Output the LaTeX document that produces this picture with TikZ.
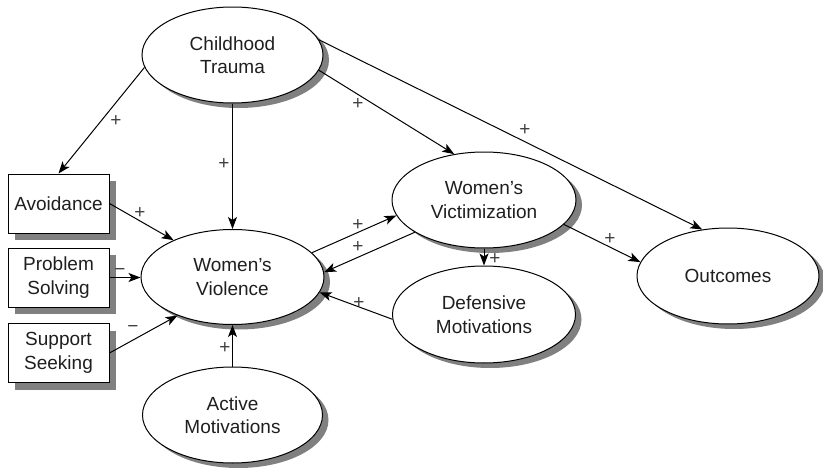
\documentclass[tikz,border=0pt]{standalone}
\usepackage{fontspec}
\setmainfont{Liberation Sans}
\usetikzlibrary{shapes.geometric,shadows,arrows.meta}
\begin{document}
\begin{tikzpicture}[x=1pt,y=-1pt,
  oval/.style={ellipse,draw=black,line width=1pt,fill=white,inner sep=0pt,align=center,
    font=\fontsize{19}{23.5}\selectfont,text=black!88,
    drop shadow={shadow xshift=6pt,shadow yshift=-5pt,fill=black!50,opacity=1}},
  obox/.style={rectangle,draw=black,line width=1pt,fill=white,inner sep=0pt,align=center,
    minimum width=101pt,minimum height=59pt,
    font=\fontsize{19}{23.5}\selectfont,text=black!88,
    drop shadow={shadow xshift=7pt,shadow yshift=-7pt,fill=black!50,opacity=1}},
  path/.style={draw=black,line width=1pt,-{Stealth[length=12pt,width=9pt,inset=3pt]}},
  sign/.style={font=\fontsize{19}{19}\selectfont,text=black!75,inner sep=0pt}
]
\useasboundingbox (0,0) rectangle (823,471);
% ellipses
\node[oval,minimum width=181pt,minimum height=96pt] (trauma) at (232.5,55) {Childhood\\Trauma};
\node[oval,minimum width=183pt,minimum height=95pt] (viol) at (232.5,277) {Women’s\\Violence};
\node[oval,minimum width=184pt,minimum height=96pt] (vict) at (484,200) {Women’s\\Victimization};
\node[oval,minimum width=183pt,minimum height=97pt] (def) at (484,314.5) {Defensive\\Motivations};
\node[oval,minimum width=180pt,minimum height=96pt] (act) at (232.5,415) {Active\\Motivations};
\node[oval,minimum width=182pt,minimum height=96pt] (out) at (728,276) {Outcomes};
% boxes
\node[obox] (avoid) at (58.5,203.5) {Avoidance};
\node[obox] (prob) at (58.5,277.5) {Problem\\Solving};
\node[obox] (supp) at (58.5,353) {Support\\Seeking};
% connectors
\draw[path] (trauma.188) -- (avoid.north);
\draw[path] (trauma.south) -- (viol.north);
\draw[path] (trauma.-10) -- (vict.123);
\draw[path] (trauma.10.5) -- (out.119);
\draw[path] (avoid.east) -- (viol.148);
\draw[path] (prob.east) -- (prob.east -| viol.west);
\draw[path] (supp.east) -- (viol.215);
\draw[path] (act.north) -- (viol.south);
\draw[path] (viol.17) -- (vict.190);
\draw[path] (vict.205) -- (viol.3);
\draw[path] (vict.south) -- (def.north);
\draw[path] (def.183) -- (viol.-10);
\draw[path] (vict.-17.5) -- (out.171);
% signs
\node[sign] (s1) at (116,121) {+};
\node[sign] (s2) at (224,164) {+};
\node[sign] (s3) at (358,104) {+};
\node[sign] (s4) at (525,130) {+};
\node[sign] (s5) at (140,213) {+};
\node[sign] (s6) at (120,272) {−};
\node[sign] (s7) at (133,329) {−};
\node[sign] (s8) at (225,348) {+};
\node[sign] (s9) at (358,225) {+};
\node[sign] (s10) at (358,247) {+};
\node[sign] (s11) at (495,259) {+};
\node[sign] (s12) at (359,303) {+};
\node[sign] (s13) at (610,239) {+};
\end{tikzpicture}
\end{document}
